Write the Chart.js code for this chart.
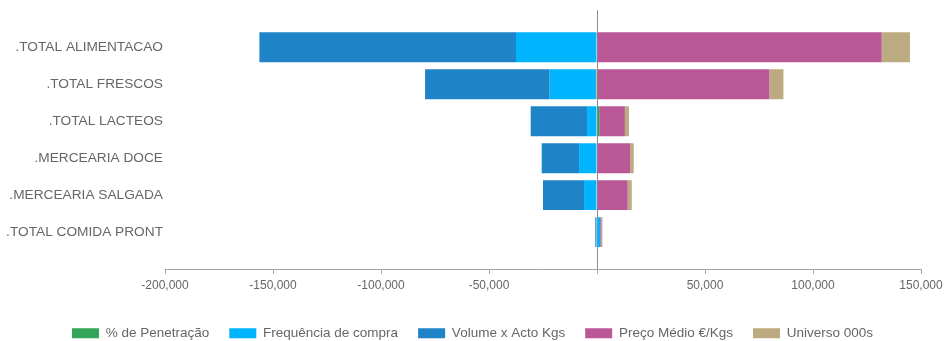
<!DOCTYPE html>
<html>
<head>
<meta charset="utf-8">
<script src="https://cdn.jsdelivr.net/npm/chart.js@4"></script>
<style>
  html, body { margin: 0; padding: 0; background: #fff; overflow: hidden; }
  #wrap { width: 945px; height: 341px; }
</style>
</head>
<body>
<div id="wrap"><canvas id="my-chart" width="945" height="341"></canvas></div>
<script>
const categories = ['.TOTAL ALIMENTACAO', '.TOTAL FRESCOS', '.TOTAL LACTEOS', '.MERCEARIA DOCE', '.MERCEARIA SALGADA', '.TOTAL COMIDA PRONT'];

const penetracao = [0, -500, 1000, 0, 0, 0];
const frequencia = [-37500, -21400, -4600, -8300, -6000, 1500];
const volume = [-118800, -57700, -26100, -17300, -19000, -800];
const precoMedio = [131800, 79800, 11900, 15300, 14200, 500];
const universo = [13100, 6500, 1900, 1700, 1900, 500];

const xTicks = [-200000, -150000, -100000, -50000, 0, 50000, 100000, 150000];

const font = 'Liberation Sans, Arial, sans-serif';

// an empty slot above and below keeps the bars a full row away from the chart edges
const labels = [''].concat(categories, ['']);
function padded(values) {
  return [null].concat(values, [null]);
}

const ctx = document.getElementById('my-chart').getContext('2d');
const chart = new Chart(ctx, {
  type: 'bar',
  data: {
    labels: labels,
    datasets: [
      { label: '% de Penetração', backgroundColor: '#33a65a', data: padded(penetracao) },
      { label: 'Frequência de compra', backgroundColor: '#00b5fd', data: padded(frequencia) },
      { label: 'Volume x Acto Kgs', backgroundColor: '#1e83c7', data: padded(volume) },
      { label: 'Preço Médio €/Kgs', backgroundColor: '#b95797', data: padded(precoMedio) },
      { label: 'Universo 000s', backgroundColor: '#bcaa80', data: padded(universo) }
    ]
  },
  options: {
    indexAxis: 'y',
    responsive: false,
    animation: false,
    barPercentage: 0.81,
    categoryPercentage: 1,
    layout: { padding: { top: 10, left: 0, right: 0, bottom: -9 } },
    scales: {
      x: {
        stacked: true,
        min: xTicks[0],
        max: xTicks[xTicks.length - 1],
        z: 1,
        afterBuildTicks: scale => {
          scale.ticks = xTicks.map(v => ({ value: v }));
        },
        afterFit: scale => {
          // extra room under the tick labels before the legend
          scale.height += 10;
          scale.paddingRight = 24;
        },
        border: { display: true, color: '#a6a6a6', width: 1 },
        grid: {
          color: c => (c.tick && c.tick.value === 0) ? '#8c8c8c' : 'rgba(0,0,0,0)',
          tickColor: '#a6a6a6',
          tickLength: 5,
          drawOnChartArea: true
        },
        ticks: {
          color: '#666',
          padding: 4,
          maxRotation: 0,
          font: { family: font, size: 12 },
          callback: v => v === 0 ? '' : v.toLocaleString('en-US')
        }
      },
      y: {
        stacked: true,
        offset: false,
        afterFit: scale => { scale.width = 165; },
        border: { display: false },
        grid: { display: false, drawTicks: false },
        ticks: {
          color: '#666',
          padding: 2,
          autoSkip: false,
          font: { family: font, size: 13.7 }
        }
      }
    },
    plugins: {
      tooltip: { enabled: false },
      legend: {
        position: 'bottom',
        labels: {
          boxWidth: 27,
          boxHeight: 10,
          padding: 20,
          color: '#666',
          font: { family: font, size: 13.5 }
        }
      }
    }
  }
});
</script>
</body>
</html>
